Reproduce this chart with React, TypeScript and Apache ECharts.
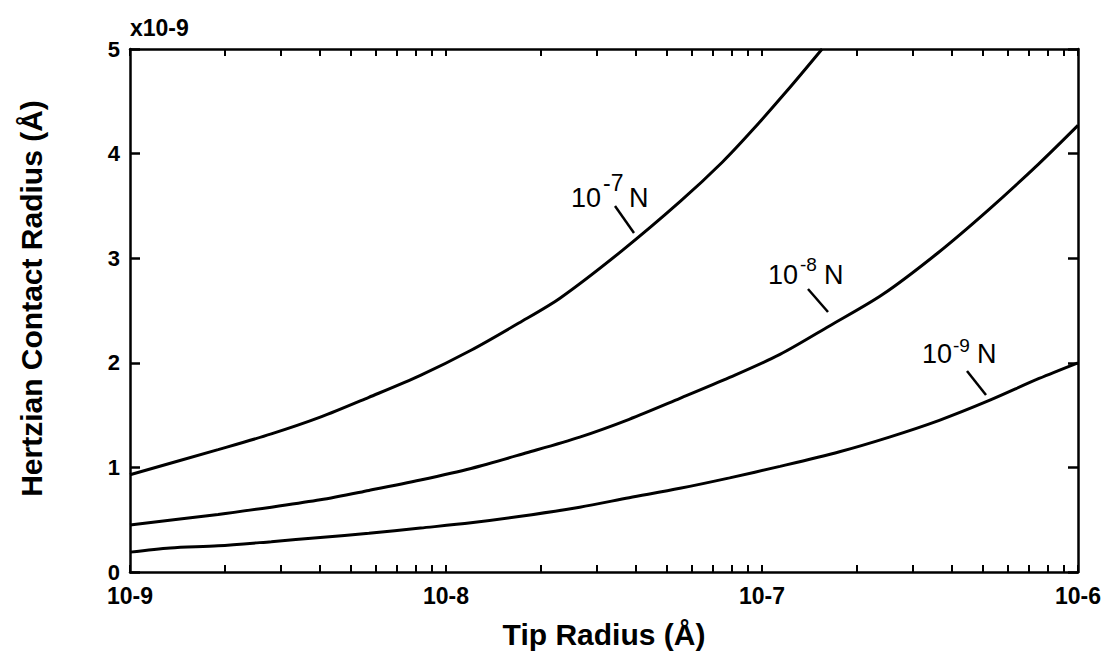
import React, { useEffect, useRef } from "react";
import * as echarts from "echarts";

// ---- data ----
const xTickLabels = ["10-9", "10-8", "10-7", "10-6"];
const yTickLabels = ["0", "1", "2", "3", "4", "5"];
const yScaleLabel = "x10-9";

const r7 = [1e-9, 1.9e-9, 2.8e-9, 4e-9, 5.7e-9, 8.3e-9, 1.2e-8, 1.7e-8, 2.3e-8, 3.6e-8, 5.5e-8, 7.5e-8, 9.3e-8, 1.2e-7, 1.55e-7];
const a7 = [0.93, 1.17, 1.32, 1.48, 1.67, 1.88, 2.12, 2.38, 2.62, 3.07, 3.54, 3.92, 4.22, 4.6, 5.0];

const r8 = [1e-9, 1.9e-9, 2.8e-9, 4e-9, 5.7e-9, 8.3e-9, 1.2e-8, 1.8e-8, 2.65e-8, 3.8e-8, 5.5e-8, 7.9e-8, 1.14e-7, 1.63e-7, 2.4e-7, 3.6e-7, 5.2e-7, 7.5e-7, 1e-6];
const a8 = [0.45, 0.55, 0.62, 0.69, 0.78, 0.88, 0.99, 1.14, 1.29, 1.46, 1.66, 1.86, 2.08, 2.35, 2.65, 3.05, 3.46, 3.9, 4.27];

const r9 = [1e-9, 1.34e-9, 1.9e-9, 2.8e-9, 4e-9, 5.7e-9, 8.3e-9, 1.2e-8, 1.7e-8, 2.65e-8, 3.8e-8, 5.5e-8, 7.9e-8, 1.14e-7, 1.76e-7, 2.53e-7, 3.64e-7, 5.24e-7, 7.53e-7, 1e-6];
const a9 = [0.19, 0.23, 0.25, 0.29, 0.33, 0.37, 0.42, 0.47, 0.53, 0.62, 0.71, 0.8, 0.9, 1.01, 1.15, 1.29, 1.45, 1.64, 1.85, 2.0];

const curveNames = ["10-7 N", "10-8 N", "10-9 N"];
const curveExps = ["-7", "-8", "-9"];

const FONT = "'Liberation Sans', Arial, Helvetica, sans-serif";

function pairs(xs: number[], ys: number[]) {
  return xs.map((x, i) => [x, ys[i]]);
}

// x axis tick positions (1..9 per decade)
const xTickVals: number[] = [];
for (let e = -9; e < -6; e++) {
  for (let k = 1; k < 10; k++) xTickVals.push(Number((k * Math.pow(10, e)).toPrecision(3)));
}
xTickVals.push(1e-6);
const xLabelVals = [1e-9, 1e-8, 1e-7, 1e-6];

function xLabel(v: number) {
  const i = Math.round(Math.log10(v)) + 9;
  return xTickLabels[i] ?? "";
}

export default function App() {
  const ref = useRef<HTMLDivElement>(null);
  useEffect(() => {
    if (!ref.current) return;
    const chart = echarts.init(ref.current, null, { renderer: "svg" });
    const axisLine = { show: true, onZero: false, lineStyle: { color: "#000", width: 2.5 } };
    const lineSeries = (name: string, d: number[][]) => ({
      type: "line",
      name,
      data: d,
      xAxisIndex: 0,
      yAxisIndex: 0,
      showSymbol: false,
      smooth: 0.3,
      clip: true,
      lineStyle: { color: "#000", width: 3 },
    });
    const labelGroup = (x: number, y: number, exp: string, lx1: number, ly1: number, lx2: number, ly2: number, supDx: number, nDx: number, supDy: number, supSize: number) => [
      { type: "text", x, y, style: { text: "10", fill: "#000", fontSize: 27, fontFamily: FONT, verticalAlign: "middle", align: "left" } },
      { type: "text", x: x + supDx, y: y - supDy, style: { text: exp, fill: "#000", fontSize: supSize, fontFamily: FONT, verticalAlign: "middle", align: "left" } },
      { type: "text", x: x + nDx, y, style: { text: "N", fill: "#000", fontSize: 27, fontFamily: FONT, verticalAlign: "middle", align: "left" } },
      { type: "line", shape: { x1: lx1, y1: ly1, x2: lx2, y2: ly2 }, style: { stroke: "#000", lineWidth: 2.5 } },
    ];
    chart.setOption({
      animation: false,
      backgroundColor: "#fff",
      grid: { left: 130, top: 49, right: 25, bottom: 92, containLabel: false },
      xAxis: [
        {
          type: "log",
          logBase: 10,
          min: 1e-9,
          max: 1e-6,
          position: "bottom",
          axisLine,
          axisTick: { show: true, inside: true, length: 7, customValues: xTickVals, lineStyle: { color: "#000", width: 2 } },
          axisLabel: { color: "#000", fontSize: 23, fontWeight: "bold", fontFamily: FONT, lineHeight: 23, margin: 12, formatter: (v: number) => xLabel(v), customValues: xLabelVals, showMinLabel: true, showMaxLabel: true },
          splitLine: { show: false },
          minorTick: { show: false },
          name: "Tip Radius (Å)",
          nameLocation: "middle",
          nameGap: 47,
          nameTextStyle: { color: "#000", fontSize: 30, fontWeight: "bold", fontFamily: FONT },
        },
        {
          type: "log",
          logBase: 10,
          min: 1e-9,
          max: 1e-6,
          position: "top",
          axisLine,
          axisTick: { show: true, inside: true, length: 7, customValues: xTickVals, lineStyle: { color: "#000", width: 2 } },
          axisLabel: { show: false },
          splitLine: { show: false },
        },
      ],
      yAxis: [
        {
          type: "value",
          min: 0,
          max: 5,
          interval: 1,
          position: "left",
          axisLine,
          axisTick: { show: true, inside: true, length: 10, lineStyle: { color: "#000", width: 2.5 } },
          axisLabel: { color: "#000", fontSize: 22, fontWeight: "bold", fontFamily: FONT, lineHeight: 21, margin: 10, formatter: (v: number) => yTickLabels[Math.round(v)] ?? "" },
          splitLine: { show: false },
          name: "Hertzian Contact Radius (Å)",
          nameLocation: "middle",
          nameGap: 84,
          nameTextStyle: { color: "#000", fontSize: 30, fontWeight: "bold", fontFamily: FONT, padding: [0, 0, 0, 24] },
        },
        {
          type: "value",
          min: 0,
          max: 5,
          interval: 1,
          position: "right",
          axisLine,
          axisTick: { show: true, inside: true, length: 10, lineStyle: { color: "#000", width: 2.5 } },
          axisLabel: { show: false },
          splitLine: { show: false },
        },
      ],
      series: [
        lineSeries(curveNames[0], pairs(r7, a7)),
        lineSeries(curveNames[1], pairs(r8, a8)),
        lineSeries(curveNames[2], pairs(r9, a9)),
      ],
      graphic: [
        { type: "text", x: 130, y: 28, style: { text: yScaleLabel, fill: "#000", fontSize: 23, fontWeight: "bold", fontFamily: FONT, verticalAlign: "middle", align: "left" } },
        ...labelGroup(571, 198, curveExps[0], 615, 206, 634, 233, 32, 58, 15, 23),
        ...labelGroup(768, 275, curveExps[1], 808, 289, 828, 312, 32, 56, 11, 19),
        ...labelGroup(922, 354, curveExps[2], 967, 371, 986, 395, 31, 55, 9, 19),
      ],
    });
    return () => chart.dispose();
  }, []);
  return <div ref={ref} style={{ position: "fixed", left: 0, top: 0, width: 1104, height: 664, background: "#fff" }} />;
}
